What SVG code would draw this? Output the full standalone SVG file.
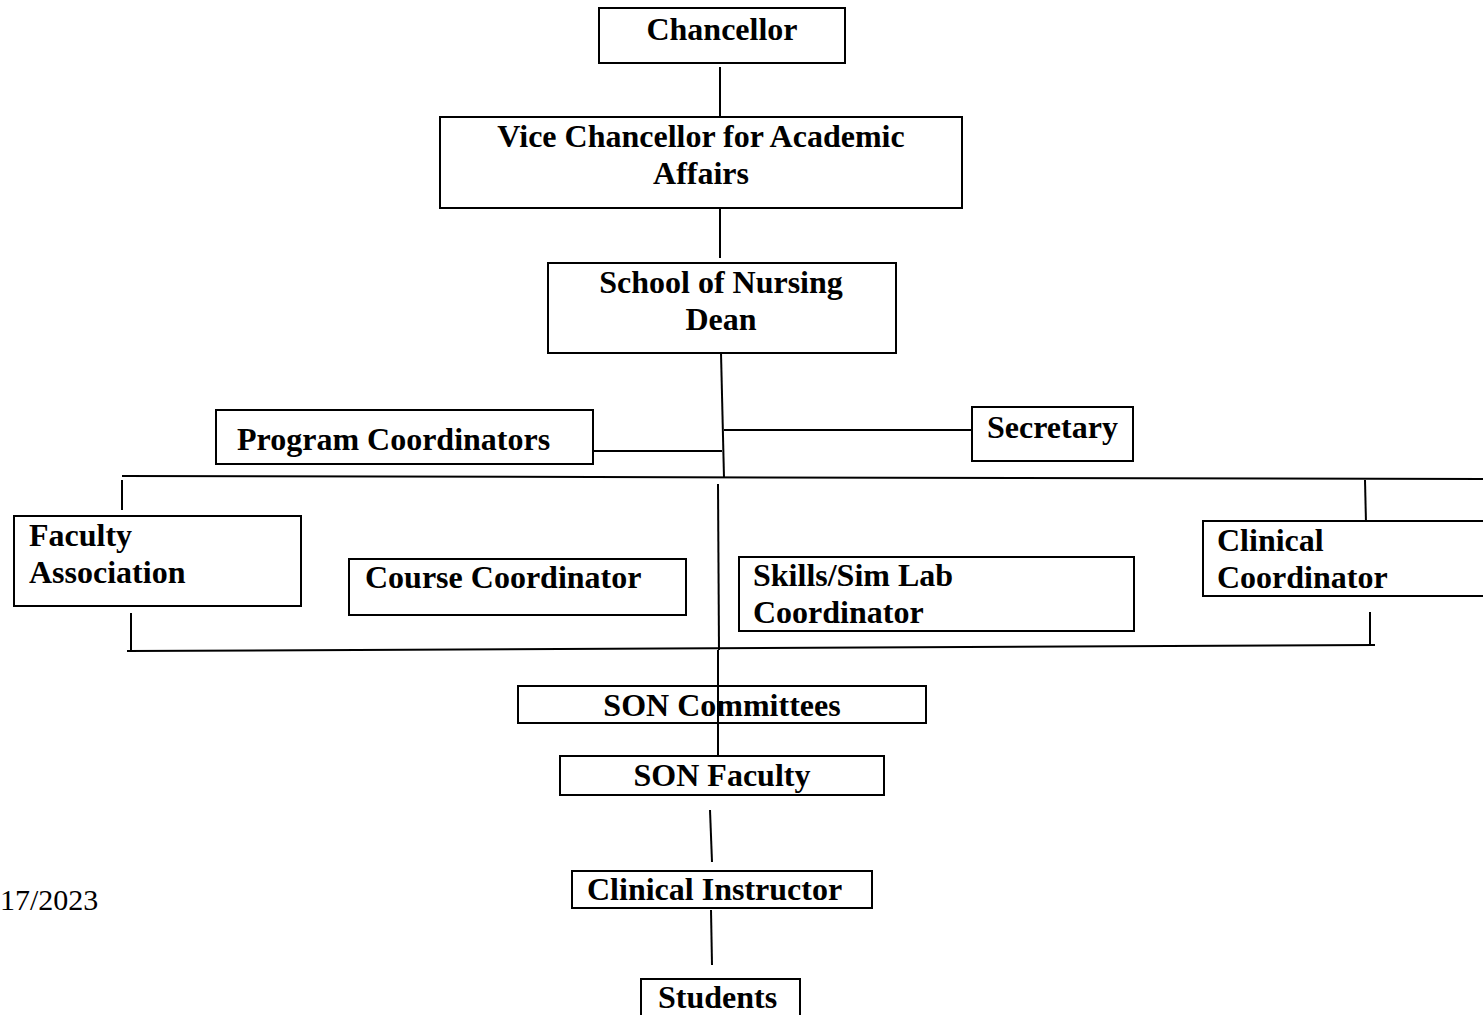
<svg xmlns="http://www.w3.org/2000/svg" width="1483" height="1015" viewBox="0 0 1483 1015">
<style>
.box{fill:#fff;stroke:#000;stroke-width:2}
.t{font-family:"Liberation Serif","Times New Roman",serif;font-weight:bold;font-size:32px;fill:#000}
.c{text-anchor:middle}
.ln{stroke:#000;stroke-width:2;fill:none}
</style>
<rect width="1483" height="1015" fill="#fff"/>
<g id="connectors">
<line class="ln" x1="720" y1="67" x2="720" y2="118"/>
<line class="ln" x1="720" y1="200" x2="720" y2="258"/>
<line class="ln" x1="721" y1="353" x2="724" y2="478"/>
<line class="ln" x1="593" y1="451" x2="722" y2="451"/>
<line class="ln" x1="724" y1="430" x2="972" y2="430"/>
<line class="ln" x1="122" y1="476" x2="1483" y2="479"/>
<line class="ln" x1="122" y1="480" x2="122" y2="510"/>
<line class="ln" x1="1365" y1="480" x2="1366" y2="523"/>
<line class="ln" x1="718" y1="484" x2="719" y2="650"/>
<line class="ln" x1="127" y1="651" x2="1375" y2="645"/>
<line class="ln" x1="131" y1="613" x2="131" y2="651"/>
<line class="ln" x1="1370" y1="612" x2="1370" y2="645"/>
</g>
<g id="chancellor"><rect class="box" x="599" y="8" width="246" height="55"/><text class="t c" x="722" y="40">Chancellor</text></g>
<g id="vc"><rect class="box" x="440" y="117" width="522" height="91"/><text class="t c" x="701" y="147">Vice Chancellor for Academic</text><text class="t c" x="701" y="184">Affairs</text></g>
<g id="dean"><rect class="box" x="548" y="263" width="348" height="90"/><text class="t c" x="721" y="293">School of Nursing</text><text class="t c" x="721" y="330">Dean</text></g>
<g id="program"><rect class="box" x="216" y="410" width="377" height="54"/><text class="t" x="237" y="450">Program Coordinators</text></g>
<g id="secretary"><rect class="box" x="972" y="407" width="161" height="54"/><text class="t" x="987" y="438">Secretary</text></g>
<g id="faculty-assoc"><rect class="box" x="14" y="516" width="287" height="90"/><text class="t" x="29" y="546">Faculty</text><text class="t" x="29" y="583">Association</text></g>
<g id="course"><rect class="box" x="349" y="559" width="337" height="56"/><text class="t" x="365" y="588">Course Coordinator</text></g>
<g id="skills"><rect class="box" x="739" y="557" width="395" height="74"/><text class="t" x="753" y="586">Skills/Sim Lab</text><text class="t" x="753" y="623">Coordinator</text></g>
<g id="clinical-coord"><rect class="box" x="1203" y="521" width="300" height="75"/><text class="t" x="1217" y="551">Clinical</text><text class="t" x="1217" y="588">Coordinator</text></g>
<g id="committees"><rect class="box" x="518" y="686" width="408" height="37"/><text class="t c" x="722" y="716">SON Committees</text></g>
<g id="son-faculty"><rect class="box" x="560" y="756" width="324" height="39"/><text class="t c" x="722" y="786">SON Faculty</text></g>
<g id="instructor"><rect class="box" x="572" y="871" width="300" height="37"/><text class="t" x="587" y="900">Clinical Instructor</text></g>
<g id="students"><rect class="box" x="641" y="979" width="159" height="50"/><text class="t" x="658" y="1008">Students</text></g>
<g id="connectors-over">
<line class="ln" x1="718" y1="650" x2="718" y2="755"/>
<line class="ln" x1="710" y1="810" x2="712" y2="862"/>
<line class="ln" x1="711" y1="910" x2="712" y2="965"/>
</g>
<text x="0" y="910" style="font-family:'Liberation Serif','Times New Roman',serif;font-size:30px;fill:#000">17/2023</text>
</svg>
